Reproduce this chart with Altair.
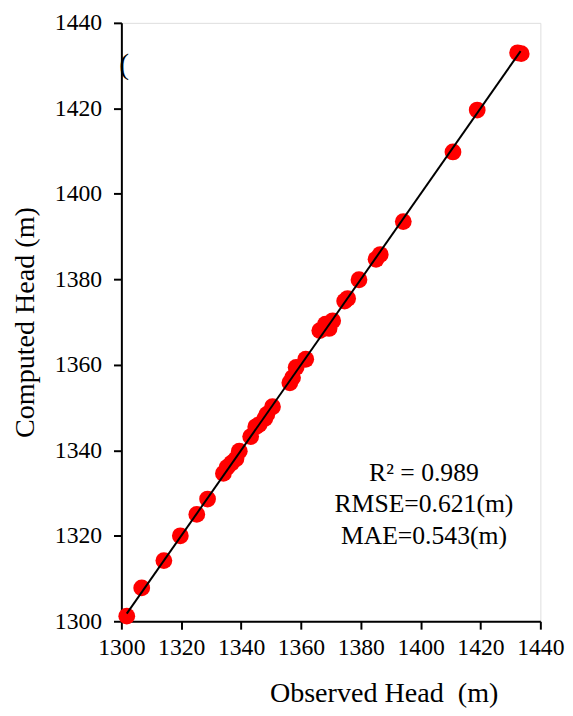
import altair as alt
import pandas as pd

observed = [1301.8, 1306.8, 1314.2, 1319.7, 1325.2, 1328.8, 1334.1, 1335.3, 1336.8,
            1338.3, 1339.4, 1343.2, 1344.9, 1346.0, 1347.9, 1348.6, 1350.5, 1356.3,
            1357.2, 1358.4, 1361.6, 1366.3, 1368.2, 1369.4, 1370.6, 1374.6, 1375.6,
            1379.4, 1385.1, 1386.5, 1394.2, 1410.8, 1418.9, 1432.4, 1433.6]
computed = [1301.2, 1307.8, 1314.2, 1320.0, 1325.0, 1328.6, 1334.6, 1336.0, 1337.0,
            1338.0, 1339.8, 1343.2, 1345.5, 1346.0, 1347.4, 1348.4, 1350.2, 1355.8,
            1357.0, 1359.4, 1361.3, 1368.0, 1369.5, 1368.5, 1370.3, 1374.9, 1375.5,
            1379.9, 1384.7, 1385.8, 1393.5, 1409.8, 1419.6, 1433.0, 1432.8]

fit_x = [1301.8, 1433.4]
fit_y = [1301.8, 1433.4]

tick_values = [1300, 1320, 1340, 1360, 1380, 1400, 1420, 1440]

stats_text = ["R\u00b2 = 0.989", "RMSE=0.621(m)", "MAE=0.543(m)"]
stats_x = [1401.1, 1401.1, 1401.1]
stats_y = [1334.6, 1327.3, 1320.0]

stray_text = ["("]
stray_x = [1300.9]
stray_y = [1430.0]

FONT = "Liberation Serif"

pts = pd.DataFrame({"obs": observed, "comp": computed})
line_df = pd.DataFrame({"obs": fit_x, "comp": fit_y})
stats_df = pd.DataFrame({"t": stats_text, "x": stats_x, "y": stats_y})
stray_df = pd.DataFrame({"t": stray_text, "x": stray_x, "y": stray_y})

xscale = alt.Scale(domain=[1300, 1440], nice=False, zero=False)
yscale = alt.Scale(domain=[1300, 1440], nice=False, zero=False)

xaxis = alt.Axis(values=tick_values, format="d", title="Observed Head \u00a0(m)", grid=False,
                 labelFontSize=24, titleFontSize=28.5, labelFont=FONT, titleFont=FONT,
                 labelColor="black", titleColor="black", titleFontWeight="normal",
                 tickSize=8, tickWidth=2, tickColor="black",
                 domainColor="black", domainWidth=2, labelPadding=7,
                 labelFlush=False, titleAnchor="middle", titleX=266, titleY=72,
                 titleBaseline="middle")
yaxis = alt.Axis(values=tick_values, format="d", title="Computed Head (m)", grid=False,
                 labelFontSize=24, titleFontSize=28.5, labelFont=FONT, titleFont=FONT,
                 labelColor="black", titleColor="black", titleFontWeight="normal",
                 tickSize=8, tickWidth=2, tickColor="black",
                 domainColor="black", domainWidth=2, labelPadding=12,
                 labelFlush=False, titleAnchor="middle", titleX=-98,
                 titleBaseline="middle")

points = alt.Chart(pts).mark_circle(color="#ff0000", opacity=1, size=290).encode(
    x=alt.X("obs:Q", scale=xscale, axis=xaxis),
    y=alt.Y("comp:Q", scale=yscale, axis=yaxis),
)

line = alt.Chart(line_df).mark_line(color="black", strokeWidth=2).encode(
    x=alt.X("obs:Q", scale=xscale),
    y=alt.Y("comp:Q", scale=yscale),
)

stats = alt.Chart(stats_df).mark_text(font=FONT, fontSize=26, color="black",
                                      align="center", baseline="middle").encode(
    x=alt.X("x:Q", scale=xscale),
    y=alt.Y("y:Q", scale=yscale),
    text="t:N",
)

stray = alt.Chart(stray_df).mark_text(font=FONT, fontSize=30, color="black",
                                      align="center", baseline="middle").encode(
    x=alt.X("x:Q", scale=xscale),
    y=alt.Y("y:Q", scale=yscale),
    text="t:N",
)

chart = alt.layer(points, line, stats, stray).properties(
    width=425,
    height=607,
    autosize=alt.AutoSizeParams(type="none"),
    padding={"left": 115, "top": 10, "right": 25, "bottom": 90},
).configure_view(stroke="black", strokeWidth=2).configure(background="white")

chart.save("out.html", embed_options={"renderer": "svg", "actions": False})
